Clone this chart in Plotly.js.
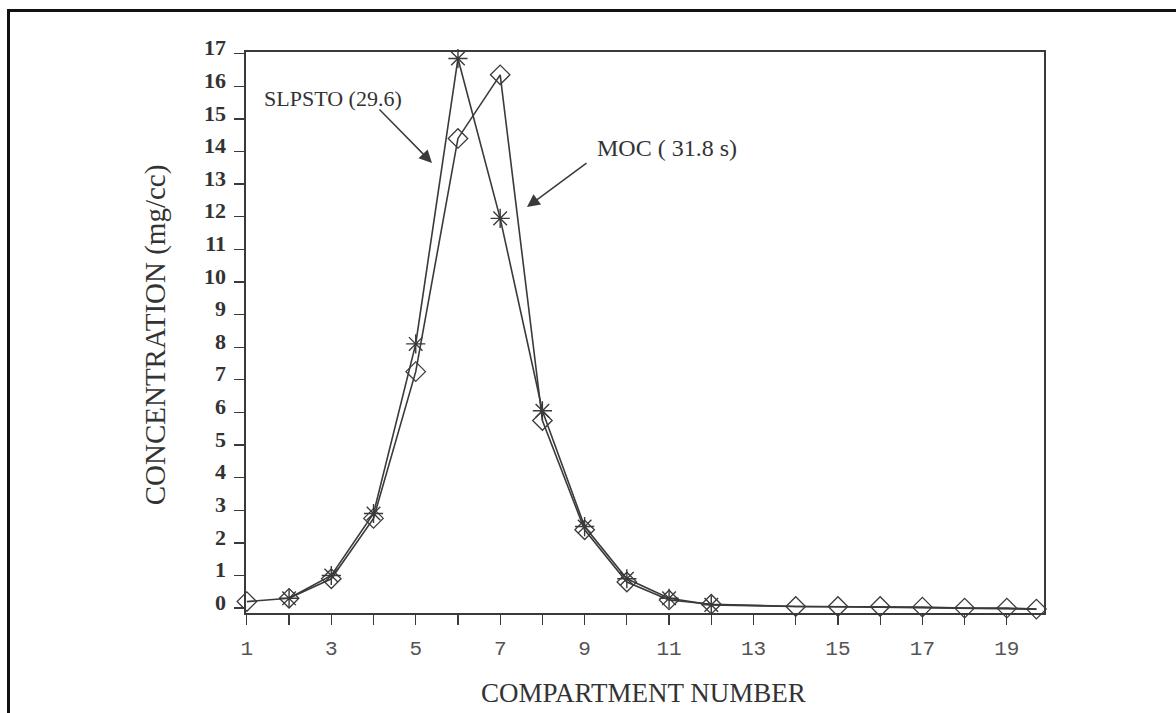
<!DOCTYPE html>
<html>
<head>
<meta charset="utf-8">
<script src="https://cdn.plot.ly/plotly-3.0.1.min.js"></script>
<style>
  html, body { margin: 0; padding: 0; background: #fff; }
  #wrap { position: relative; width: 1176px; height: 713px; overflow: hidden; }
  #frame { position: absolute; left: 7px; top: 9px; width: 1200px; height: 760px;
           border-top: 3px solid #111; border-left: 3px solid #111; pointer-events: none; z-index: 5; }
  #chart { position: absolute; left: 0; top: 0; width: 1176px; height: 713px; }
</style>
</head>
<body>
<div id="wrap">
  <div id="chart"></div>
  <div id="frame"></div>
</div>
<script>
// MOC (31.8 s) – diamonds
const mocCompartments = [1, 2, 3, 4, 5, 6, 7, 8, 9, 10, 11, 12, 14, 15, 16, 17, 18, 19, 19.7];
const mocConc        = [0.2, 0.3, 0.9, 2.75, 7.25, 14.4, 16.35, 5.75, 2.4, 0.8, 0.25, 0.12, 0.05, 0.05, 0.05, 0.03, 0.0, 0.0, -0.03];

// SLPSTO (29.6) – asterisks
const slpCompartments = [2, 3, 4, 5, 6, 7, 8, 9, 10, 11, 12];
const slpConc         = [0.3, 1.0, 2.9, 8.1, 16.85, 11.95, 6.05, 2.5, 0.9, 0.3, 0.1];
// SLPSTO tail (line only, no markers visible)
const slpTailCompartments = [12, 13, 14, 15, 16, 17, 18, 19, 19.7];
const slpTailConc         = [0.1, 0.07, 0.05, 0.04, 0.03, 0.01, 0.0, -0.02, -0.03];

const yTickVals  = [0,1,2,3,4,5,6,7,8,9,10,11,12,13,14,15,16,17];
const yTickText  = ['0','1','2','3','4','5','6','7','8','9','10','11','12','13','14','15','16','17'];
const xTickVals  = [1,3,5,7,9,11,13,15,17,19];
const xTickText  = ['1','3','5','7','9','11','13','15','17','19'];

const ink = '#3a3a3a';

const traces = [
  {
    x: mocCompartments, y: mocConc, name: 'MOC ( 31.8 s)',
    mode: 'lines+markers', type: 'scatter', cliponaxis: false,
    line: { color: ink, width: 1.6 },
    marker: { symbol: 'diamond-open', size: 15, color: ink, line: { color: ink, width: 1.3 } }
  },
  {
    x: slpTailCompartments, y: slpTailConc, name: 'SLPSTO tail',
    mode: 'lines', type: 'scatter', cliponaxis: false,
    line: { color: ink, width: 1.6 }
  },
  {
    x: slpCompartments, y: slpConc, name: 'SLPSTO (29.6)',
    mode: 'lines+markers', type: 'scatter', cliponaxis: false,
    line: { color: ink, width: 1.6 },
    marker: { symbol: 'asterisk-open', size: 16, color: ink, line: { color: ink, width: 1.4 } }
  }
];

const serif = '"Liberation Serif", "Times New Roman", serif';

const layout = {
  width: 1176, height: 713,
  margin: { l: 246, r: 132, t: 52, b: 100 },
  paper_bgcolor: '#ffffff', plot_bgcolor: '#ffffff',
  showlegend: false,
  xaxis: {
    range: [0.98, 19.88],
    tickvals: xTickVals, ticktext: xTickText,
    ticks: 'outside', ticklen: 10, tickwidth: 1.3, tickcolor: ink,
    minor: { dtick: 1, tick0: 0, ticks: 'outside', ticklen: 10, tickwidth: 1.3, tickcolor: ink },
    showline: true, mirror: true, linecolor: ink, linewidth: 1.6,
    showgrid: false, zeroline: false,
    tickfont: { family: '"Liberation Mono", "Courier New", monospace', size: 21, color: '#555' },
    ticklabelstandoff: 5
  },
  yaxis: {
    range: [-0.15, 17.05],
    tickvals: yTickVals, ticktext: yTickText,
    ticks: 'outside', ticklen: 10, tickwidth: 1.3, tickcolor: ink,
    showline: true, mirror: true, linecolor: ink, linewidth: 1.6,
    showgrid: false, zeroline: false,
    tickfont: { family: serif, size: 22, color: '#333', weight: 'bold' },
    ticklabelshift: -6,
    ticklabelstandoff: 4
  },
  annotations: [
    { xref: 'paper', yref: 'paper', x: -0.114, y: 0.495, xanchor: 'center', yanchor: 'middle',
      text: 'CONCENTRATION (mg/cc)', textangle: -90, showarrow: false,
      font: { family: serif, size: 29, color: '#333' } },
    { xref: 'paper', yref: 'paper', x: 0.4985, y: -0.142, xanchor: 'center', yanchor: 'middle',
      text: 'COMPARTMENT NUMBER', showarrow: false,
      font: { family: serif, size: 27, color: '#333' } },
    { xref: 'paper', yref: 'paper', x: 0.0205, y: 0.918, xanchor: 'left', yanchor: 'middle',
      text: 'SLPSTO (29.6)', showarrow: false,
      font: { family: serif, size: 22, color: '#333' } },
    { xref: 'paper', yref: 'paper', x: 0.4373, y: 0.829, xanchor: 'left', yanchor: 'middle',
      text: 'MOC ( 31.8 s)', showarrow: false,
      font: { family: serif, size: 24, color: '#333' } },
    { xref: 'paper', yref: 'paper', x: (432-246)/798, y: (613-163)/561, text: '',
      showarrow: true, arrowhead: 2, arrowsize: 1.7, arrowwidth: 1.5, arrowcolor: ink,
      ax: -54, ay: -55 },
    { xref: 'paper', yref: 'paper', x: (527-246)/798, y: (613-207)/561, text: '',
      showarrow: true, arrowhead: 2, arrowsize: 1.7, arrowwidth: 1.5, arrowcolor: ink,
      ax: 61, ay: -45 }
  ]
};

Plotly.newPlot('chart', traces, layout, { displayModeBar: false, staticPlot: true });
</script>
</body>
</html>
